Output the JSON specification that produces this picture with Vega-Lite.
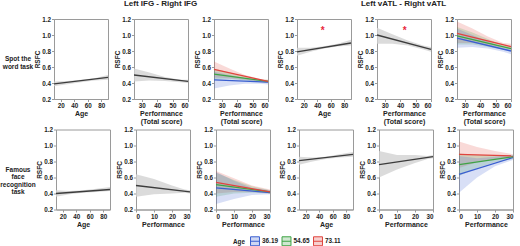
{
 "$schema": "https://vega.github.io/schema/vega-lite/v6.json",
 "padding": 0,
 "background": "white",
 "datasets": {
  "bands": [
   {"p":1,"g":"all","x":10,"lo":0.36,"hi":0.42},{"p":1,"g":"all","x":30,"lo":0.385,"hi":0.425},{"p":1,"g":"all","x":50,"lo":0.41,"hi":0.44},{"p":1,"g":"all","x":70,"lo":0.43,"hi":0.46},{"p":1,"g":"all","x":90,"lo":0.44,"hi":0.50},
   {"p":2,"g":"all","x":25,"lo":0.42,"hi":0.58},{"p":2,"g":"all","x":35,"lo":0.43,"hi":0.53},{"p":2,"g":"all","x":45,"lo":0.425,"hi":0.475},{"p":2,"g":"all","x":55,"lo":0.41,"hi":0.44},{"p":2,"g":"all","x":60,"lo":0.40,"hi":0.44},
   {"p":3,"g":"73.11","x":25,"lo":0.47,"hi":0.67},{"p":3,"g":"73.11","x":35,"lo":0.46,"hi":0.58},{"p":3,"g":"73.11","x":45,"lo":0.44,"hi":0.50},{"p":3,"g":"73.11","x":55,"lo":0.42,"hi":0.45},{"p":3,"g":"73.11","x":60,"lo":0.40,"hi":0.44},
   {"p":3,"g":"54.65","x":25,"lo":0.44,"hi":0.58},{"p":3,"g":"54.65","x":35,"lo":0.45,"hi":0.53},{"p":3,"g":"54.65","x":45,"lo":0.43,"hi":0.48},{"p":3,"g":"54.65","x":55,"lo":0.41,"hi":0.44},{"p":3,"g":"54.65","x":60,"lo":0.40,"hi":0.44},
   {"p":3,"g":"36.19","x":25,"lo":0.33,"hi":0.54},{"p":3,"g":"36.19","x":35,"lo":0.37,"hi":0.50},{"p":3,"g":"36.19","x":45,"lo":0.39,"hi":0.46},{"p":3,"g":"36.19","x":55,"lo":0.39,"hi":0.43},{"p":3,"g":"36.19","x":60,"lo":0.38,"hi":0.43},
   {"p":4,"g":"all","x":10,"lo":0.74,"hi":0.84},{"p":4,"g":"all","x":30,"lo":0.79,"hi":0.84},{"p":4,"g":"all","x":50,"lo":0.83,"hi":0.86},{"p":4,"g":"all","x":70,"lo":0.855,"hi":0.89},{"p":4,"g":"all","x":90,"lo":0.87,"hi":0.94},
   {"p":5,"g":"all","x":25,"lo":0.89,"hi":1.09},{"p":5,"g":"all","x":35,"lo":0.89,"hi":1.01},{"p":5,"g":"all","x":45,"lo":0.87,"hi":0.93},{"p":5,"g":"all","x":55,"lo":0.82,"hi":0.87},{"p":5,"g":"all","x":60,"lo":0.79,"hi":0.85},
   {"p":6,"g":"73.11","x":25,"lo":0.90,"hi":1.17},{"p":6,"g":"73.11","x":35,"lo":0.90,"hi":1.08},{"p":6,"g":"73.11","x":45,"lo":0.87,"hi":0.98},{"p":6,"g":"73.11","x":55,"lo":0.84,"hi":0.90},{"p":6,"g":"73.11","x":60,"lo":0.82,"hi":0.89},
   {"p":6,"g":"54.65","x":25,"lo":0.88,"hi":1.10},{"p":6,"g":"54.65","x":35,"lo":0.88,"hi":1.03},{"p":6,"g":"54.65","x":45,"lo":0.85,"hi":0.95},{"p":6,"g":"54.65","x":55,"lo":0.82,"hi":0.87},{"p":6,"g":"54.65","x":60,"lo":0.80,"hi":0.86},
   {"p":6,"g":"36.19","x":25,"lo":0.84,"hi":1.08},{"p":6,"g":"36.19","x":35,"lo":0.85,"hi":1.00},{"p":6,"g":"36.19","x":45,"lo":0.83,"hi":0.92},{"p":6,"g":"36.19","x":55,"lo":0.79,"hi":0.84},{"p":6,"g":"36.19","x":60,"lo":0.76,"hi":0.83},
   {"p":7,"g":"all","x":10,"lo":0.36,"hi":0.44},{"p":7,"g":"all","x":30,"lo":0.39,"hi":0.43},{"p":7,"g":"all","x":50,"lo":0.41,"hi":0.44},{"p":7,"g":"all","x":70,"lo":0.42,"hi":0.46},{"p":7,"g":"all","x":90,"lo":0.43,"hi":0.48},
   {"p":8,"g":"all","x":0,"lo":0.36,"hi":0.64},{"p":8,"g":"all","x":10,"lo":0.39,"hi":0.58},{"p":8,"g":"all","x":20,"lo":0.40,"hi":0.50},{"p":8,"g":"all","x":27,"lo":0.41,"hi":0.45},{"p":8,"g":"all","x":30,"lo":0.40,"hi":0.44},
   {"p":9,"g":"73.11","x":0,"lo":0.40,"hi":0.68},{"p":9,"g":"73.11","x":10,"lo":0.42,"hi":0.59},{"p":9,"g":"73.11","x":20,"lo":0.42,"hi":0.50},{"p":9,"g":"73.11","x":30,"lo":0.40,"hi":0.45},
   {"p":9,"g":"54.65","x":0,"lo":0.36,"hi":0.66},{"p":9,"g":"54.65","x":10,"lo":0.40,"hi":0.57},{"p":9,"g":"54.65","x":20,"lo":0.41,"hi":0.49},{"p":9,"g":"54.65","x":30,"lo":0.40,"hi":0.44},
   {"p":9,"g":"36.19","x":0,"lo":0.27,"hi":0.67},{"p":9,"g":"36.19","x":10,"lo":0.33,"hi":0.56},{"p":9,"g":"36.19","x":20,"lo":0.38,"hi":0.47},{"p":9,"g":"36.19","x":30,"lo":0.39,"hi":0.44},
   {"p":10,"g":"all","x":10,"lo":0.76,"hi":0.86},{"p":10,"g":"all","x":30,"lo":0.80,"hi":0.85},{"p":10,"g":"all","x":50,"lo":0.83,"hi":0.86},{"p":10,"g":"all","x":70,"lo":0.85,"hi":0.89},{"p":10,"g":"all","x":90,"lo":0.86,"hi":0.92},
   {"p":11,"g":"all","x":0,"lo":0.60,"hi":0.93},{"p":11,"g":"all","x":10,"lo":0.70,"hi":0.88},{"p":11,"g":"all","x":20,"lo":0.78,"hi":0.88},{"p":11,"g":"all","x":27,"lo":0.83,"hi":0.87},{"p":11,"g":"all","x":30,"lo":0.84,"hi":0.88},
   {"p":12,"g":"73.11","x":0,"lo":0.72,"hi":1.05},{"p":12,"g":"73.11","x":10,"lo":0.79,"hi":0.98},{"p":12,"g":"73.11","x":20,"lo":0.83,"hi":0.93},{"p":12,"g":"73.11","x":30,"lo":0.84,"hi":0.89},
   {"p":12,"g":"54.65","x":0,"lo":0.62,"hi":0.90},{"p":12,"g":"54.65","x":10,"lo":0.72,"hi":0.88},{"p":12,"g":"54.65","x":20,"lo":0.79,"hi":0.88},{"p":12,"g":"54.65","x":30,"lo":0.83,"hi":0.88},
   {"p":12,"g":"36.19","x":0,"lo":0.41,"hi":0.87},{"p":12,"g":"36.19","x":10,"lo":0.60,"hi":0.84},{"p":12,"g":"36.19","x":20,"lo":0.74,"hi":0.86},{"p":12,"g":"36.19","x":30,"lo":0.82,"hi":0.88}
  ],
  "lines": [
   {"p":1,"g":"all","x":10,"y":0.39},{"p":1,"g":"all","x":90,"y":0.47},
   {"p":2,"g":"all","x":25,"y":0.50},{"p":2,"g":"all","x":60,"y":0.42},
   {"p":3,"g":"36.19","x":25,"y":0.44},{"p":3,"g":"36.19","x":60,"y":0.41},
   {"p":3,"g":"54.65","x":25,"y":0.51},{"p":3,"g":"54.65","x":60,"y":0.42},
   {"p":3,"g":"73.11","x":25,"y":0.57},{"p":3,"g":"73.11","x":60,"y":0.42},
   {"p":4,"g":"all","x":10,"y":0.79},{"p":4,"g":"all","x":90,"y":0.90},
   {"p":5,"g":"all","x":25,"y":1.00},{"p":5,"g":"all","x":60,"y":0.82},
   {"p":6,"g":"36.19","x":25,"y":0.96},{"p":6,"g":"36.19","x":60,"y":0.80},
   {"p":6,"g":"54.65","x":25,"y":0.99},{"p":6,"g":"54.65","x":60,"y":0.83},
   {"p":6,"g":"73.11","x":25,"y":1.02},{"p":6,"g":"73.11","x":60,"y":0.855},
   {"p":7,"g":"all","x":10,"y":0.40},{"p":7,"g":"all","x":90,"y":0.45},
   {"p":8,"g":"all","x":0,"y":0.50},{"p":8,"g":"all","x":30,"y":0.42},
   {"p":9,"g":"36.19","x":0,"y":0.47},{"p":9,"g":"36.19","x":30,"y":0.41},
   {"p":9,"g":"54.65","x":0,"y":0.51},{"p":9,"g":"54.65","x":30,"y":0.42},
   {"p":9,"g":"73.11","x":0,"y":0.54},{"p":9,"g":"73.11","x":30,"y":0.42},
   {"p":10,"g":"all","x":10,"y":0.81},{"p":10,"g":"all","x":90,"y":0.89},
   {"p":11,"g":"all","x":0,"y":0.76},{"p":11,"g":"all","x":30,"y":0.86},
   {"p":12,"g":"36.19","x":0,"y":0.64},{"p":12,"g":"36.19","x":30,"y":0.85},
   {"p":12,"g":"54.65","x":0,"y":0.76},{"p":12,"g":"54.65","x":30,"y":0.86},
   {"p":12,"g":"73.11","x":0,"y":0.89},{"p":12,"g":"73.11","x":30,"y":0.87}
  ],
  "stars": [
   {"p":4,"x":48,"y":1.075,"s":"*"},
   {"p":5,"x":43,"y":1.075,"s":"*"}
  ]
 },
 "vconcat": [
  {
   "hconcat": [
    {"width":34,"height":80,"view":{"stroke":null},"data":{"values":[{"t":"Spot the\nword task"}]},"mark":{"type":"text","lineBreak":"\n","fontWeight":"bold","fontSize":6.5,"lineHeight":7.5,"color":"#222","dx":1},"encoding":{"text":{"field":"t"}}},
    {
     "hconcat": [
      {
       "title":{"text":"Left IFG - Right IFG","anchor":"middle","dx":8},
       "hconcat": [
        {"width":54,"height":80,
         "encoding":{"x":{"field":"x","type":"quantitative","scale":{"domain":[10,90],"nice":false},"axis":{"values":[20,40,60,80],"title":"Age"}}},
         "layer":[
          {"data":{"name":"bands"},"transform":[{"filter":"datum.p==1"}],"mark":{"type":"area","color":"#d2d2d2","opacity":0.8},"encoding":{"y":{"field":"lo","type":"quantitative","title":"RSFC","scale":{"domain":[0.2,1.2],"nice":false},"axis":{"tickCount":6,"format":".1f","labelOverlap":false}},"y2":{"field":"hi"}}},
          {"data":{"name":"lines"},"transform":[{"filter":"datum.p==1"}],"mark":{"type":"line","color":"#3c3c3c","strokeWidth":1.3},"encoding":{"y":{"field":"y","type":"quantitative","title":"RSFC","axis":{"tickCount":6,"format":".1f","labelOverlap":false}}}}
         ]},
        {"width":54,"height":80,
         "encoding":{"x":{"field":"x","type":"quantitative","scale":{"domain":[25,60],"nice":false},"axis":{"values":[30,40,50,60],"title":["Performance","(Total score)"]}}},
         "layer":[
          {"data":{"name":"bands"},"transform":[{"filter":"datum.p==2"}],"mark":{"type":"area","color":"#d2d2d2","opacity":0.8},"encoding":{"y":{"field":"lo","type":"quantitative","title":"RSFC","scale":{"domain":[0.2,1.2],"nice":false},"axis":{"tickCount":6,"format":".1f","labelOverlap":false}},"y2":{"field":"hi"}}},
          {"data":{"name":"lines"},"transform":[{"filter":"datum.p==2"}],"mark":{"type":"line","color":"#3c3c3c","strokeWidth":1.3},"encoding":{"y":{"field":"y","type":"quantitative","title":"RSFC","axis":{"tickCount":6,"format":".1f","labelOverlap":false}}}}
         ]},
        {"width":54,"height":80,
         "encoding":{"x":{"field":"x","type":"quantitative","scale":{"domain":[25,60],"nice":false},"axis":{"values":[30,40,50,60],"title":["Performance","(Total score)"]}}},
         "layer":[
          {"data":{"name":"bands"},"transform":[{"filter":"datum.p==3"}],"mark":{"type":"area","fillOpacity":0.2},"encoding":{"y":{"field":"lo","type":"quantitative","title":"RSFC","stack":null,"scale":{"domain":[0.2,1.2],"nice":false},"axis":{"tickCount":6,"format":".1f","labelOverlap":false}},"y2":{"field":"hi"},
            "color":{"field":"g","type":"nominal","scale":{"domain":["36.19","54.65","73.11"],"range":["#3a5fd0","#3fa345","#e0443e"]},
             "legend":{"orient":"none","legendX":233,"legendY":217,"direction":"horizontal","title":"Age","titleOrient":"left","titleFontSize":6.3,"titleFontWeight":"bold","titleColor":"#222","titlePadding":5,"labelFontSize":6.4,"labelFontWeight":"bold","labelColor":"#222","labelOffset":2,"columnPadding":1.5,"symbolType":"M-1,-1H1V1H-1Z M-1,0H1","symbolSize":80,
              "encode":{"symbols":{"update":{"fill":{"scale":"color","field":"value"},"fillOpacity":{"value":0.25},"stroke":{"scale":"color","field":"value"},"strokeWidth":{"value":1},"opacity":{"value":1}}}}}}}},
          {"data":{"name":"lines"},"transform":[{"filter":"datum.p==3"}],"mark":{"type":"line","strokeWidth":1.3},"encoding":{"y":{"field":"y","type":"quantitative","title":"RSFC","axis":{"tickCount":6,"format":".1f","labelOverlap":false}},"color":{"field":"g","type":"nominal"}}}
         ]}
       ],
       "spacing":2
      },
      {
       "title":{"text":"Left vATL - Right vATL","anchor":"middle","dx":8},
       "hconcat": [
        {"width":54,"height":80,
         "encoding":{"x":{"field":"x","type":"quantitative","scale":{"domain":[10,90],"nice":false},"axis":{"values":[20,40,60,80],"title":"Age"}}},
         "layer":[
          {"data":{"name":"bands"},"transform":[{"filter":"datum.p==4"}],"mark":{"type":"area","color":"#d2d2d2","opacity":0.8},"encoding":{"y":{"field":"lo","type":"quantitative","title":"RSFC","scale":{"domain":[0.2,1.2],"nice":false},"axis":{"tickCount":6,"format":".1f","labelOverlap":false}},"y2":{"field":"hi"}}},
          {"data":{"name":"lines"},"transform":[{"filter":"datum.p==4"}],"mark":{"type":"line","color":"#3c3c3c","strokeWidth":1.3},"encoding":{"y":{"field":"y","type":"quantitative","title":"RSFC","axis":{"tickCount":6,"format":".1f","labelOverlap":false}}}},
          {"data":{"name":"stars"},"transform":[{"filter":"datum.p==4"}],"mark":{"type":"text","color":"#e8283c","fontSize":10,"fontWeight":"bold","baseline":"middle","dy":2},"encoding":{"y":{"field":"y","type":"quantitative","title":"RSFC","axis":{"tickCount":6,"format":".1f","labelOverlap":false}},"text":{"field":"s"}}}
         ]},
        {"width":54,"height":80,
         "encoding":{"x":{"field":"x","type":"quantitative","scale":{"domain":[25,60],"nice":false},"axis":{"values":[30,40,50,60],"title":["Performance","(Total score)"]}}},
         "layer":[
          {"data":{"name":"bands"},"transform":[{"filter":"datum.p==5"}],"mark":{"type":"area","color":"#d2d2d2","opacity":0.8},"encoding":{"y":{"field":"lo","type":"quantitative","title":"RSFC","scale":{"domain":[0.2,1.2],"nice":false},"axis":{"tickCount":6,"format":".1f","labelOverlap":false}},"y2":{"field":"hi"}}},
          {"data":{"name":"lines"},"transform":[{"filter":"datum.p==5"}],"mark":{"type":"line","color":"#3c3c3c","strokeWidth":1.3},"encoding":{"y":{"field":"y","type":"quantitative","title":"RSFC","axis":{"tickCount":6,"format":".1f","labelOverlap":false}}}},
          {"data":{"name":"stars"},"transform":[{"filter":"datum.p==5"}],"mark":{"type":"text","color":"#e8283c","fontSize":10,"fontWeight":"bold","baseline":"middle","dy":2},"encoding":{"y":{"field":"y","type":"quantitative","title":"RSFC","axis":{"tickCount":6,"format":".1f","labelOverlap":false}},"text":{"field":"s"}}}
         ]},
        {"width":54,"height":80,
         "encoding":{"x":{"field":"x","type":"quantitative","scale":{"domain":[25,60],"nice":false},"axis":{"values":[30,40,50,60],"title":["Performance","(Total score)"]}}},
         "layer":[
          {"data":{"name":"bands"},"transform":[{"filter":"datum.p==6"}],"mark":{"type":"area","fillOpacity":0.2},"encoding":{"y":{"field":"lo","type":"quantitative","title":"RSFC","stack":null,"scale":{"domain":[0.2,1.2],"nice":false},"axis":{"tickCount":6,"format":".1f","labelOverlap":false}},"y2":{"field":"hi"},"color":{"field":"g","type":"nominal"}}},
          {"data":{"name":"lines"},"transform":[{"filter":"datum.p==6"}],"mark":{"type":"line","strokeWidth":1.3},"encoding":{"y":{"field":"y","type":"quantitative","title":"RSFC","axis":{"tickCount":6,"format":".1f","labelOverlap":false}},"color":{"field":"g","type":"nominal"}}}
         ]}
       ],
       "spacing":2
      }
     ],
     "spacing":5
    }
   ],
   "spacing":0
  },
  {
   "hconcat": [
    {"width":34,"height":80,"view":{"stroke":null},"data":{"values":[{"t":"Famous\nface\nrecognition\ntask"}]},"mark":{"type":"text","lineBreak":"\n","fontWeight":"bold","fontSize":6.5,"lineHeight":7.5,"color":"#222","dx":1},"encoding":{"text":{"field":"t"}}},
    {
     "hconcat": [
      {
       "hconcat": [
        {"width":54,"height":80,
         "encoding":{"x":{"field":"x","type":"quantitative","scale":{"domain":[10,90],"nice":false},"axis":{"values":[20,40,60,80],"title":"Age"}}},
         "layer":[
          {"data":{"name":"bands"},"transform":[{"filter":"datum.p==7"}],"mark":{"type":"area","color":"#d2d2d2","opacity":0.8},"encoding":{"y":{"field":"lo","type":"quantitative","title":"RSFC","scale":{"domain":[0.2,1.2],"nice":false},"axis":{"tickCount":6,"format":".1f","labelOverlap":false}},"y2":{"field":"hi"}}},
          {"data":{"name":"lines"},"transform":[{"filter":"datum.p==7"}],"mark":{"type":"line","color":"#3c3c3c","strokeWidth":1.3},"encoding":{"y":{"field":"y","type":"quantitative","title":"RSFC","axis":{"tickCount":6,"format":".1f","labelOverlap":false}}}}
         ]},
        {"width":54,"height":80,
         "encoding":{"x":{"field":"x","type":"quantitative","scale":{"domain":[0,30],"nice":false},"axis":{"values":[0,10,20,30],"title":"Performance"}}},
         "layer":[
          {"data":{"name":"bands"},"transform":[{"filter":"datum.p==8"}],"mark":{"type":"area","color":"#d2d2d2","opacity":0.8},"encoding":{"y":{"field":"lo","type":"quantitative","title":"RSFC","scale":{"domain":[0.2,1.2],"nice":false},"axis":{"tickCount":6,"format":".1f","labelOverlap":false}},"y2":{"field":"hi"}}},
          {"data":{"name":"lines"},"transform":[{"filter":"datum.p==8"}],"mark":{"type":"line","color":"#3c3c3c","strokeWidth":1.3},"encoding":{"y":{"field":"y","type":"quantitative","title":"RSFC","axis":{"tickCount":6,"format":".1f","labelOverlap":false}}}}
         ]},
        {"width":54,"height":80,
         "encoding":{"x":{"field":"x","type":"quantitative","scale":{"domain":[0,30],"nice":false},"axis":{"values":[0,10,20,30],"title":"Performance"}}},
         "layer":[
          {"data":{"name":"bands"},"transform":[{"filter":"datum.p==9"}],"mark":{"type":"area","fillOpacity":0.2},"encoding":{"y":{"field":"lo","type":"quantitative","title":"RSFC","stack":null,"scale":{"domain":[0.2,1.2],"nice":false},"axis":{"tickCount":6,"format":".1f","labelOverlap":false}},"y2":{"field":"hi"},"color":{"field":"g","type":"nominal"}}},
          {"data":{"name":"lines"},"transform":[{"filter":"datum.p==9"}],"mark":{"type":"line","strokeWidth":1.3},"encoding":{"y":{"field":"y","type":"quantitative","title":"RSFC","axis":{"tickCount":6,"format":".1f","labelOverlap":false}},"color":{"field":"g","type":"nominal"}}}
         ]}
       ],
       "spacing":2
      },
      {
       "hconcat": [
        {"width":54,"height":80,
         "encoding":{"x":{"field":"x","type":"quantitative","scale":{"domain":[10,90],"nice":false},"axis":{"values":[20,40,60,80],"title":"Age"}}},
         "layer":[
          {"data":{"name":"bands"},"transform":[{"filter":"datum.p==10"}],"mark":{"type":"area","color":"#d2d2d2","opacity":0.8},"encoding":{"y":{"field":"lo","type":"quantitative","title":"RSFC","scale":{"domain":[0.2,1.2],"nice":false},"axis":{"tickCount":6,"format":".1f","labelOverlap":false}},"y2":{"field":"hi"}}},
          {"data":{"name":"lines"},"transform":[{"filter":"datum.p==10"}],"mark":{"type":"line","color":"#3c3c3c","strokeWidth":1.3},"encoding":{"y":{"field":"y","type":"quantitative","title":"RSFC","axis":{"tickCount":6,"format":".1f","labelOverlap":false}}}}
         ]},
        {"width":54,"height":80,
         "encoding":{"x":{"field":"x","type":"quantitative","scale":{"domain":[0,30],"nice":false},"axis":{"values":[0,10,20,30],"title":"Performance"}}},
         "layer":[
          {"data":{"name":"bands"},"transform":[{"filter":"datum.p==11"}],"mark":{"type":"area","color":"#d2d2d2","opacity":0.8},"encoding":{"y":{"field":"lo","type":"quantitative","title":"RSFC","scale":{"domain":[0.2,1.2],"nice":false},"axis":{"tickCount":6,"format":".1f","labelOverlap":false}},"y2":{"field":"hi"}}},
          {"data":{"name":"lines"},"transform":[{"filter":"datum.p==11"}],"mark":{"type":"line","color":"#3c3c3c","strokeWidth":1.3},"encoding":{"y":{"field":"y","type":"quantitative","title":"RSFC","axis":{"tickCount":6,"format":".1f","labelOverlap":false}}}}
         ]},
        {"width":54,"height":80,
         "encoding":{"x":{"field":"x","type":"quantitative","scale":{"domain":[0,30],"nice":false},"axis":{"values":[0,10,20,30],"title":"Performance"}}},
         "layer":[
          {"data":{"name":"bands"},"transform":[{"filter":"datum.p==12"}],"mark":{"type":"area","fillOpacity":0.2},"encoding":{"y":{"field":"lo","type":"quantitative","title":"RSFC","stack":null,"scale":{"domain":[0.2,1.2],"nice":false},"axis":{"tickCount":6,"format":".1f","labelOverlap":false}},"y2":{"field":"hi"},"color":{"field":"g","type":"nominal"}}},
          {"data":{"name":"lines"},"transform":[{"filter":"datum.p==12"}],"mark":{"type":"line","strokeWidth":1.3},"encoding":{"y":{"field":"y","type":"quantitative","title":"RSFC","axis":{"tickCount":6,"format":".1f","labelOverlap":false}},"color":{"field":"g","type":"nominal"}}}
         ]}
       ],
       "spacing":2
      }
     ],
     "spacing":5
    }
   ],
   "spacing":0
  }
 ],
 "spacing":0.5,
 "config": {
  "font":"Liberation Sans",
  "view":{"stroke":"#9a9a9a"},
  "axis":{"grid":false,"domainColor":"#9a9a9a","tickColor":"#9a9a9a","tickSize":2.5,"labelFontSize":6.3,"labelFontWeight":"bold","labelColor":"#222","labelOverlap":false,"labelPadding":1,"titleFontSize":7,"titleFontWeight":"bold","titleColor":"#222","titlePadding":1,"titleLineHeight":7.6},
  "axisX":{"labelFlush":true},
  "axisY":{"titleFontSize":6.5,"titlePadding":1,"labelFlush":false,"minExtent":12.5,"maxExtent":12.5},
  "title":{"fontSize":8,"fontWeight":"bold","color":"#222","offset":7.5}
 }
}
